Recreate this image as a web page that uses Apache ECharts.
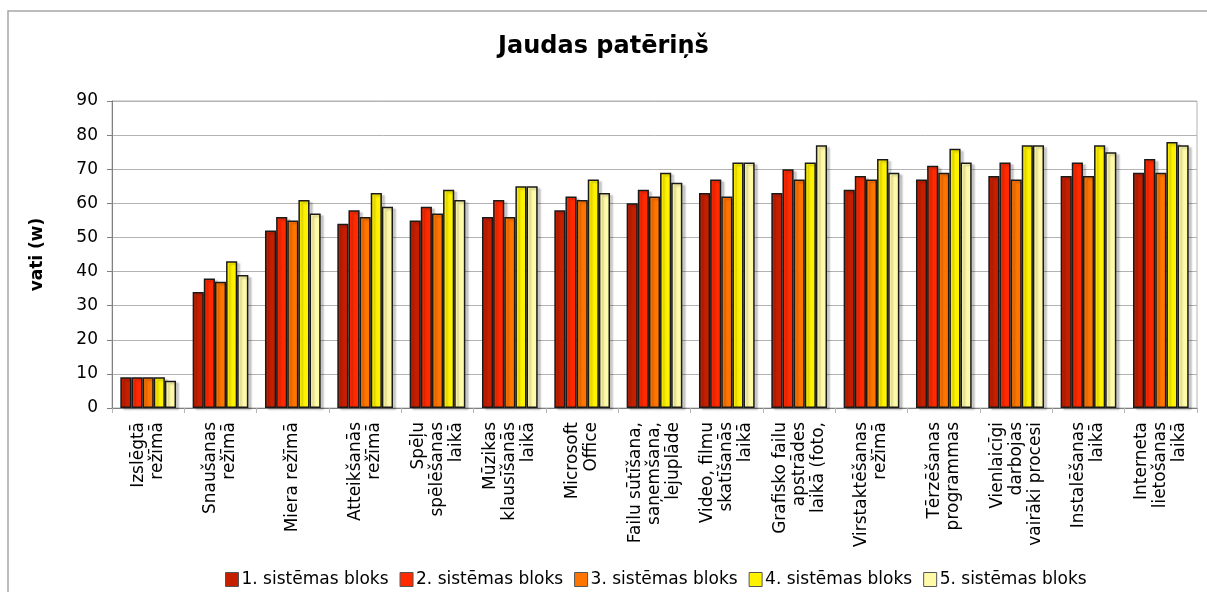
<!DOCTYPE html>
<html>
<head>
<meta charset="utf-8">
<title>Jaudas patēriņš</title>
<script src="https://cdn.jsdelivr.net/npm/echarts@6/dist/echarts.min.js"></script>
<style>
  html, body { margin: 0; padding: 0; background: #fff; }
  #chart { width: 1207px; height: 592px; }
</style>
</head>
<body>
<div id="chart"></div>
<script>
const categories = [
  'Izslēgtā\nrežīmā',
  'Snaušanas\nrežīmā',
  'Miera režīmā',
  'Atteikšanās\nrežīmā',
  'Spēļu\nspēlēšanas\nlaikā',
  'Mūzikas\nklausīšanās\nlaikā',
  'Microsoft\nOffice',
  'Failu sūtīšana,\nsaņemšana,\nlejuplāde',
  'Video, filmu\nskatīšanās\nlaikā',
  'Grafisko failu\napstrādes\nlaikā (foto,',
  'Virstaktēšanas\nrežīmā',
  'Tērzēšanas\nprogrammas',
  'Vienlaicīgi\ndarbojas\nvairāki procesi',
  'Instalēšanas\nlaikā',
  'Interneta\nlietošanas\nlaikā'
]

const seriesNames = [
  '1. sistēmas bloks',
  '2. sistēmas bloks',
  '3. sistēmas bloks',
  '4. sistēmas bloks',
  '5. sistēmas bloks'
]

const block1 = [9, 34, 52, 54, 55, 56, 58, 60, 63, 63, 64, 67, 68, 68, 69]
const block2 = [9, 38, 56, 58, 59, 61, 62, 64, 67, 70, 68, 71, 72, 72, 73]
const block3 = [9, 37, 55, 56, 57, 56, 61, 62, 62, 67, 67, 69, 67, 68, 69]
const block4 = [9, 43, 61, 63, 64, 65, 67, 69, 72, 72, 73, 76, 77, 77, 78]
const block5 = [8, 39, 57, 59, 61, 65, 63, 66, 72, 77, 69, 72, 77, 75, 77]

const colors = ['#c61f00', '#ff2a00', '#ff7500', '#fff200', '#fffaa8']

const chart = echarts.init(document.getElementById('chart'))

const font = 'DejaVu Sans, Verdana, sans-serif'

const option = {
  animation: false,
  color: colors,
  title: {
    text: 'Jaudas patēriņš',
    left: 'center',
    top: 30,
    textStyle: { fontFamily: font, fontSize: 24, fontWeight: 'bold', color: '#000' }
  },
  graphic: [{
    type: 'rect',
    shape: { x: 8, y: 11, width: 1400, height: 800 },
    style: { fill: 'none', stroke: '#a6a6a6', lineWidth: 1.5 },
    silent: true,
    z: -10
  }],
  legend: {
    data: seriesNames,
    top: 566,
    left: 220,
    itemWidth: 13,
    itemHeight: 14,
    itemGap: 11,
    icon: 'rect',
    itemStyle: { borderColor: '#555', borderWidth: 1 },
    textStyle: { fontFamily: font, fontSize: 17, color: '#000', padding: [0, 0, 0, -2] }
  },
  grid: {
    left: 112,
    right: 10,
    top: 101,
    bottom: 184,
    show: true,
    borderColor: '#b3b3b3',
    borderWidth: 1
  },
  xAxis: {
    type: 'category',
    data: categories,
    axisLine: { lineStyle: { color: '#808080' } },
    axisTick: { show: true, length: 5, lineStyle: { color: '#b3b3b3' } },
    axisLabel: {
      rotate: 90,
      interval: 0,
      margin: 14,
      fontFamily: font,
      fontSize: 17,
      lineHeight: 19,
      color: '#000'
    }
  },
  yAxis: {
    type: 'value',
    min: 0,
    max: 90,
    interval: 10,
    name: 'vati (w)',
    nameLocation: 'middle',
    nameRotate: 90,
    nameGap: 66,
    nameTextStyle: { fontFamily: font, fontSize: 17, fontWeight: 'bold', color: '#000' },
    axisLine: { show: true, lineStyle: { color: '#808080' } },
    axisTick: { show: true, length: 5, lineStyle: { color: '#808080' } },
    axisLabel: { fontFamily: font, fontSize: 17, color: '#000', margin: 14 },
    splitLine: { lineStyle: { color: '#b3b3b3', width: 1 } }
  },
  series: [block1, block2, block3, block4, block5].map((vals, i) => ({
    name: seriesNames[i],
    type: 'bar',
    data: vals,
    barGap: '0%',
    barCategoryGap: '23%',
    itemStyle: {
      color: colors[i],
      borderColor: '#1a1a1a',
      borderWidth: 1.5,
      shadowColor: 'rgba(0, 0, 0, 0.2)',
      shadowBlur: 2,
      shadowOffsetX: 3,
      shadowOffsetY: 2
    }
  }))
}

chart.setOption(option)

window.addEventListener('resize', () => chart.resize())
</script>
</body>
</html>
